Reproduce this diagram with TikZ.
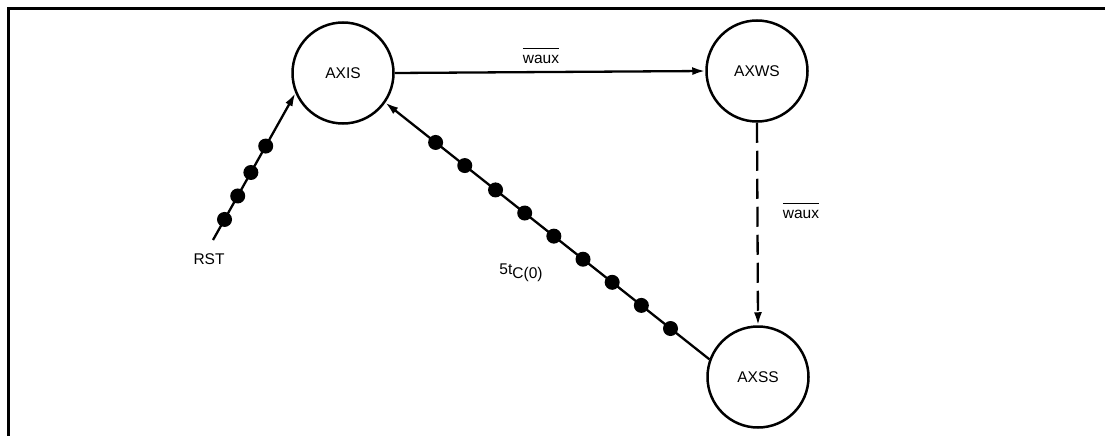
\documentclass[tikz,border=0pt]{standalone}
\usepackage{fontspec}
\setmainfont{Liberation Sans}
\usetikzlibrary{arrows.meta}
\begin{document}
\begin{tikzpicture}[x=1pt,y=-1pt,
  state/.style={circle,draw,line width=2.5pt,minimum size=101pt,inner sep=0pt,font=\fontsize{15.5}{18}\selectfont},
  conn/.style={line width=2.3pt,-{Latex[length=13pt,width=8pt]}},
  bead/.style={circle,fill=black,minimum size=15pt,inner sep=0pt},
  lbl/.style={font=\fontsize{15.5}{18}\selectfont,inner sep=1pt}]
\useasboundingbox (0,0) rectangle (1105,436);
\draw[line width=3pt] (8.5,436) -- (8.5,9) -- (1105,9);
\node[state] (AXIS) at (343,73) {AXIS};
\node[state] (AXWS) at (757,71) {AXWS};
\node[state] (AXSS) at (758,377) {AXSS};
\coordinate (rst) at (213,240);
\draw[conn] (AXIS.east) -- (AXWS.west);
\node[lbl] (l1) at (541,56) {$\overline{\hbox{\rule{0pt}{14pt}waux}}$};
\draw[conn,dash pattern=on 20pt off 8pt] (AXWS.south) -- (AXSS.north);
\node[lbl] (l2) at (801,211) {$\overline{\hbox{\rule{0pt}{14pt}waux}}$};
\draw[conn] (rst) -- (AXIS.203)
  node[bead,pos=0.14]{} node[bead,pos=0.30]{} node[bead,pos=0.46]{} node[bead,pos=0.64]{};
\node[lbl] (l3) at (209,259) {RST};
\draw[conn] (AXSS.160) -- (AXIS.-35)
  node[bead,pos=0.12]{} node[bead,pos=0.21]{} node[bead,pos=0.30]{}
  node[bead,pos=0.39]{} node[bead,pos=0.48]{} node[bead,pos=0.57]{}
  node[bead,pos=0.66]{} node[bead,pos=0.755]{} node[bead,pos=0.845]{};
\node[lbl] (l4) at (521,273) {5t\raisebox{-4pt}{C(0)}};
\end{tikzpicture}
\end{document}
